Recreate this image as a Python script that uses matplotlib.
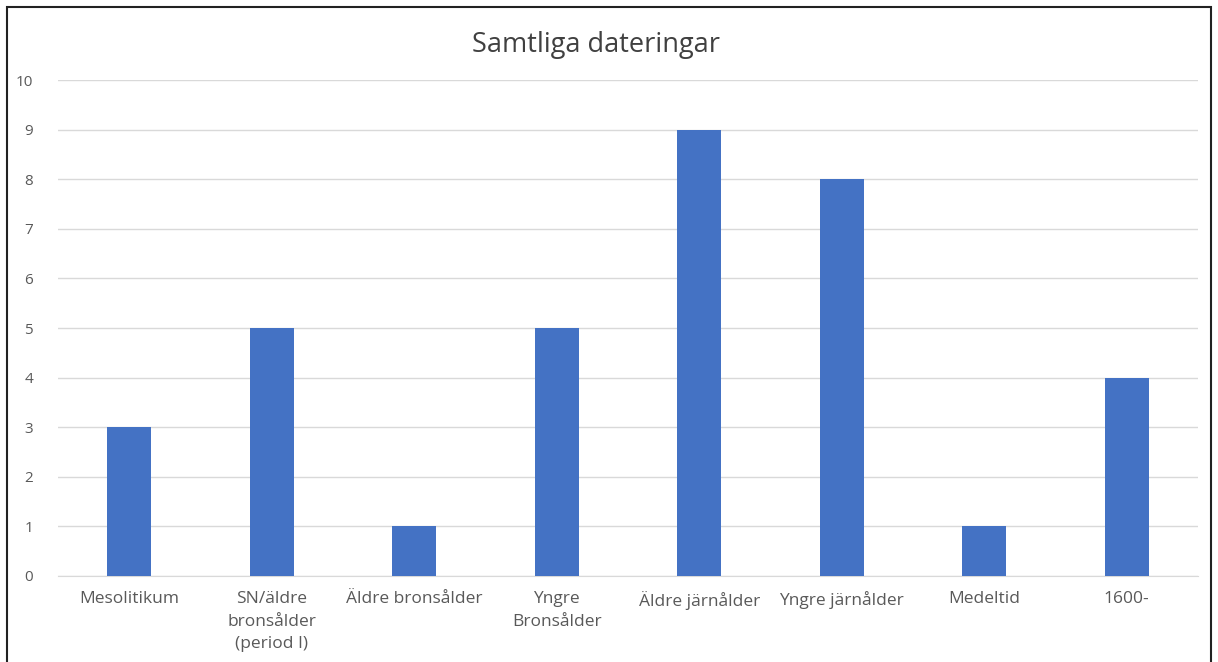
import matplotlib.pyplot as plt
from matplotlib.patches import Rectangle

categories = ["Mesolitikum", "SN/äldre\nbronsålder\n(period I)", "Äldre bronsålder",
              "Yngre\nBronsålder", "Äldre järnålder", "Yngre järnålder", "Medeltid", "1600-"]
counts = [3, 5, 1, 5, 9, 8, 1, 4]
y_ticks = list(range(0, 11))

plt.rcParams['font.family'] = ['Open Sans', 'DejaVu Sans']

fig = plt.figure(figsize=(12.18, 6.62), dpi=100)
ax = fig.add_axes([0.0476, 0.130, 0.936, 0.749])

x = range(len(categories))
ax.bar(x, counts, width=0.31, color="#4472C4", zorder=3)

ax.set_xlim(-0.5, len(categories) - 0.5)
ax.set_ylim(0, 10)
ax.set_yticks(y_ticks)
ax.set_xticks(list(x))
ax.set_xticklabels(categories, linespacing=1.55)
ax.tick_params(axis="both", length=0, colors="#595959")
ax.tick_params(axis="x", pad=11, labelsize=12.5)
ax.tick_params(axis="y", pad=18, labelsize=11)
ax.grid(axis="y", color="#D9D9D9", linewidth=1, zorder=0)
for side in ["top", "right", "left"]:
    ax.spines[side].set_visible(False)
ax.spines["bottom"].set_color("#D9D9D9")

fig.text(0.489, 0.932, "Samtliga dateringar", ha="center", va="center",
         fontsize=19.5, color="#404040")

# outer frame
fig.patches.append(Rectangle((0.0058, -0.01), 0.9885, 1.0, transform=fig.transFigure,
                             fill=False, edgecolor="#222222", linewidth=1.5))

fig.savefig("out.png", dpi=100, facecolor="white")
